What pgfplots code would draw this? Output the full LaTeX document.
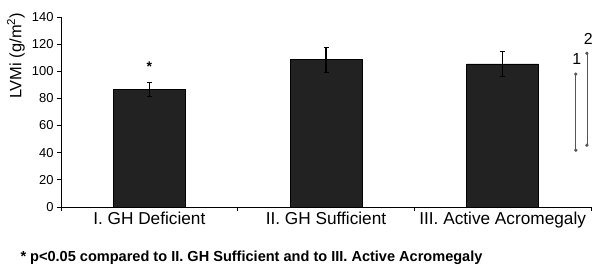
\documentclass[border=0pt]{standalone}
\usepackage{pgfplots}
\pgfplotsset{compat=1.18}
\usepackage{fontspec}
\setmainfont{Liberation Sans}
\definecolor{barfill}{RGB}{34,34,34}
\definecolor{brk}{RGB}{85,85,85}
\begin{document}
\begin{tikzpicture}
\path[use as bounding box] (-61bp,-69.3bp) rectangle (541bp,206.9bp);
\begin{axis}[
  at={(0,0)}, anchor=south west,
  scale only axis, width=530bp, height=189.9bp,
  xmin=-0.5, xmax=2.5, ymin=0, ymax=140,
  axis lines*=left,
  axis line style={black, line width=0.6bp},
  tick align=outside,
  major tick length=4bp,
  tick style={black, line width=0.6bp},
  ytick={0,20,40,60,80,100,120,140},
  xtick={-0.5,0.5,1.5,2.5},
  xticklabels={},
  extra x ticks={0,1,2},
  extra x tick labels={I. GH Deficient, II. GH Sufficient, III. Active Acromegaly},
  extra x tick style={major tick length=0pt},
  x tick label style={font=\fontsize{17.3}{20}\selectfont, yshift=-2bp},
  y tick label style={font=\fontsize{13}{15}\selectfont},
  /pgf/number format/assume math mode=true,
  ylabel={LVMi (g/m\textsuperscript{2})},
  ylabel style={font=\fontsize{16.5}{19}\selectfont, at={(axis description cs:-0.085,0.795)}, anchor=center},
  clip=false,
]
\addplot[ybar, bar width=72bp, fill=barfill, draw=black, line width=0.5bp,
  error bars/.cd, y dir=both, y explicit,
  error bar style={black, line width=1.3bp},
  error mark options={rotate=90, mark size=2.5bp, line width=0.8bp, black}]
  coordinates {(0,86.5) +- (0,5) (1,108.5) +- (0,9) (2,105.5) +- (0,9)};
\node[font=\bfseries\fontsize{14}{17}\selectfont] at (axis cs:0,103) {*};
% brackets
\addplot[brk, line width=0.8bp, mark=*, mark size=1.2bp, mark options={fill=brk}]
  coordinates {(2.414,41.8) (2.414,97.9)};
\addplot[brk, line width=0.8bp, mark=*, mark size=1.2bp, mark options={fill=brk}]
  coordinates {(2.477,45.5) (2.477,113.3)};
\node[font=\fontsize{16}{19}\selectfont] at (axis cs:2.42,109) {1};
\node[font=\fontsize{16}{19}\selectfont] at (axis cs:2.485,124) {2};
\end{axis}
\node[anchor=base west, font=\bfseries\fontsize{14.6}{17}\selectfont] at (-44bp,-55bp)
  {* p\textless0.05 compared to II. GH Sufficient and to III. Active Acromegaly};
\end{tikzpicture}
\end{document}
